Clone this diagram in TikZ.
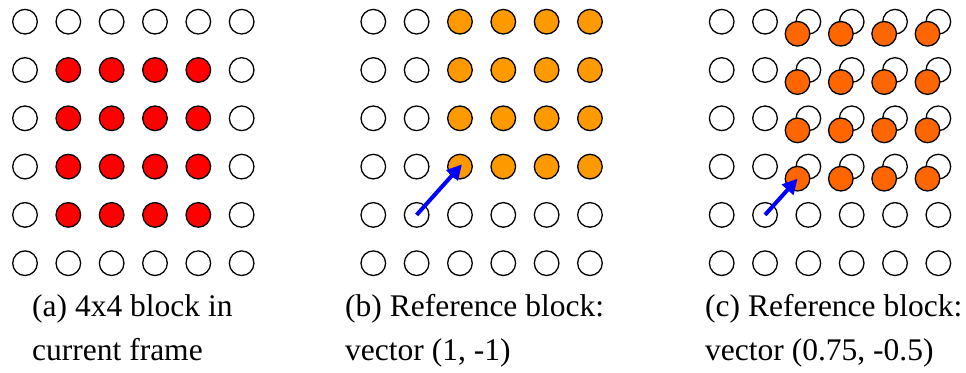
\documentclass[tikz,border=0pt]{standalone}
\usepackage{fontspec}
\setmainfont{Liberation Serif}
\usepackage{xcolor}
\usetikzlibrary{arrows.meta}

\definecolor{blockred}{RGB}{255,0,0}
\definecolor{refamber}{RGB}{255,153,0}
\definecolor{subpel}{RGB}{255,102,0}

\begin{document}
\begin{tikzpicture}[x=1pt,y=-1pt,
  pix/.style={circle, draw, line width=1.3pt, minimum size=24.6pt, inner sep=0pt, fill=white},
  mv/.style={blue, line width=4pt, -{Triangle[length=15pt,width=15pt]}},
  subcap/.style={anchor=base west, inner sep=0pt, font=\fontsize{31.5}{36}\selectfont}]

\useasboundingbox (0,0) rectangle (966,372);

% (a) current frame
\foreach \r in {0,...,5}
  \foreach \c in {0,...,5}{
    \pgfmathtruncatemacro\inblk{and(and(\r>0,\r<5),and(\c>0,\c<5))}
    \ifnum\inblk=1 \def\pixfill{blockred}\else\def\pixfill{white}\fi
    \node[pix, fill=\pixfill] (a\r\c) at ({25+43.33*\c},{21.7+48.3*\r}) {};
  }

% (b) reference block, integer vector
\foreach \r in {0,...,5}
  \foreach \c in {0,...,5}{
    \pgfmathtruncatemacro\inblk{and(\r<4,\c>1)}
    \ifnum\inblk=1 \def\pixfill{refamber}\else\def\pixfill{white}\fi
    \node[pix, fill=\pixfill] (b\r\c) at ({373.3+43.33*\c},{21.7+48.3*\r}) {};
  }

% (c) reference block, fractional vector
\foreach \r in {0,...,5}
  \foreach \c in {0,...,5}
    \node[pix] (c\r\c) at ({721.7+43.33*\c},{21.7+48.3*\r}) {};
\foreach \r in {0,...,3}
  \foreach \c in {0,...,3}
    \node[pix, fill=subpel] (o\r\c) at ({721.7+43.33*(\c+1.75)},{21.7+48.3*(\r+0.25)}) {};

% motion vectors
\draw[mv, shorten >=-3pt] (b41.center) -- (b32.center);
\draw[mv] (c41.center) -- (o30.center);

% captions
\node[subcap] (capa1) at (32,316) {(a) 4x4 block in};
\node[subcap] (capa2) at (32,360) {current frame};
\node[subcap] (capb1) at (345,316) {(b) Reference block:};
\node[subcap] (capb2) at (345,360) {vector (1, -1)};
\node[subcap] (capc1) at (705,316) {(c) Reference block:};
\node[subcap] (capc2) at (705,360) {vector (0.75, -0.5)};
\end{tikzpicture}
\end{document}
